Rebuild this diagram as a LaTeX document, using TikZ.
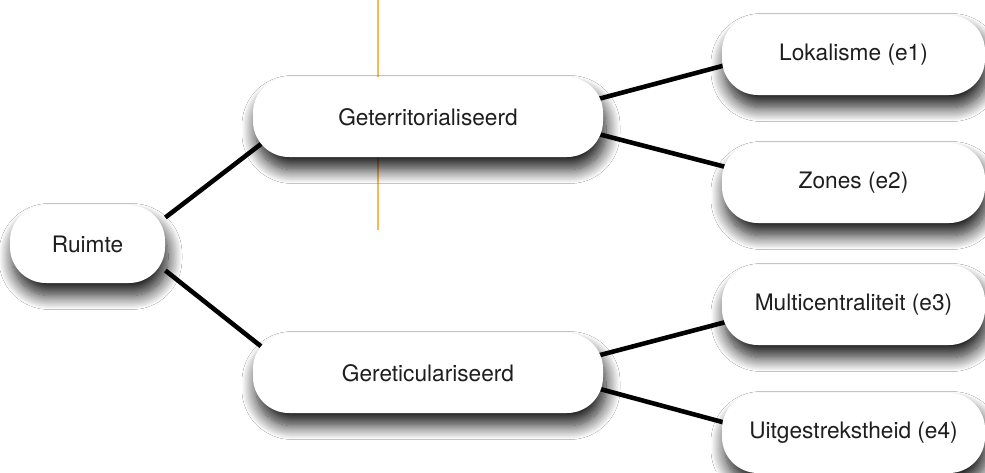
\documentclass[tikz,border=0pt]{standalone}
\usepackage{fontspec}
\setmainfont{TeX Gyre Heros}
\usetikzlibrary{backgrounds,shadows.blur}
\definecolor{markline}{RGB}{247,185,85}
\definecolor{labeltext}{RGB}{30,30,30}
\tikzset{
  box/.style={shape=rectangle, fill=white, rounded corners=0.72cm,
    minimum height=1.6cm, inner sep=2pt, text=labeltext,
    font=\fontsize{12.9}{15}\selectfont,
    blur shadow={shadow xshift=0.06cm, shadow yshift=-0.25cm,
      shadow blur radius=0.28cm, shadow blur steps=16, shadow opacity=90}},
  leaf/.style={box, minimum width=5.26cm},
  mid/.style={box, minimum width=7cm},
  link/.style={line width=2.6pt, draw=black}
}
\begin{document}
\begin{tikzpicture}
\useasboundingbox (0,0) rectangle (19.7,-9.44);

\node(ruimte) at (1.75,-4.88)[box, minimum width=3.1cm, minimum height=1.56cm] {Ruimte};
\node(geter)  at (8.56,-2.34)[mid]  {Geterritorialiseerd};
\node(geret)  at (8.56,-7.46)[mid]  {Gereticulariseerd};
\node(lokal)  at (17.07,-1.1)[leaf]  {Lokalisme (e1)};
\node(zones)  at (17.07,-3.66)[leaf] {Zones (e2)};
\node(multi)  at (17.07,-6.1)[leaf]  {Multicentraliteit (e3)};
\node(uitge)  at (17.07,-8.66)[leaf] {Uitgestrekstheid (e4)};

\begin{pgfonlayer}{background}
\fill[white] (0,0) rectangle (19.7,-9.44);
\draw[markline, line width=1.1pt] (7.56,0) -- (7.56,-4.6);
\path [link]
  ([yshift=0.53cm]ruimte.east)             edge  ([xshift=0.34cm,yshift=0.4cm]geter.south west)
  ([yshift=-0.53cm]ruimte.east)            edge  ([xshift=0.34cm,yshift=-0.41cm]geret.north west)
  ([xshift=-0.14cm,yshift=0.35cm]geter.east)  edge  ([xshift=0.16cm,yshift=-0.18cm]lokal.west)
  ([xshift=-0.14cm,yshift=-0.33cm]geter.east) edge  ([xshift=0.16cm,yshift=0.30cm]zones.west)
  ([xshift=-0.14cm,yshift=0.34cm]geret.east)  edge  ([xshift=0.16cm,yshift=-0.32cm]multi.west)
  ([xshift=-0.14cm,yshift=-0.30cm]geret.east) edge  ([xshift=0.16cm,yshift=0.18cm]uitge.west);
\end{pgfonlayer}
\end{tikzpicture}
\end{document}
